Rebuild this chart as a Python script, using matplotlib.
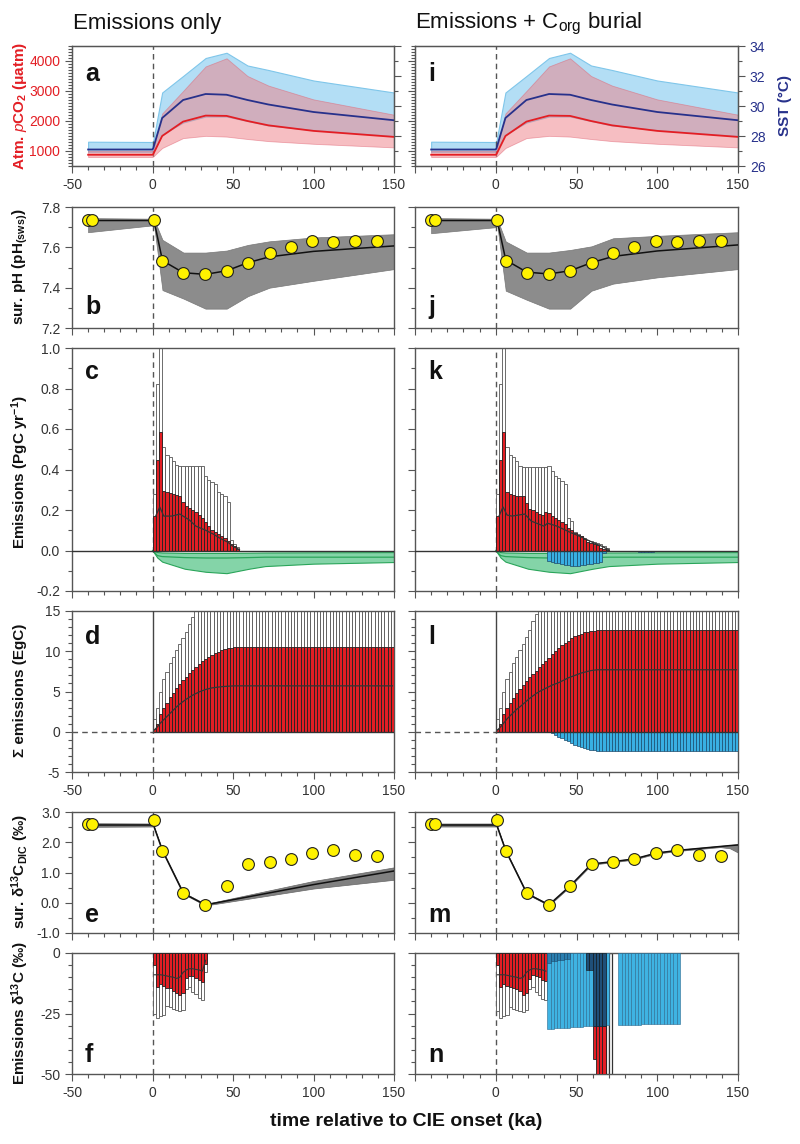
import numpy as np
import matplotlib
matplotlib.use("Agg")
import matplotlib.pyplot as plt
from matplotlib.ticker import MultipleLocator, FormatStrFormatter, FuncFormatter

plt.rcParams['font.family'] = ['Liberation Sans', 'DejaVu Sans']
plt.rcParams['mathtext.fontset'] = 'custom'
plt.rcParams['mathtext.rm'] = 'Liberation Sans'
plt.rcParams['mathtext.it'] = 'Liberation Sans:italic'
plt.rcParams['mathtext.bf'] = 'Liberation Sans:bold'
plt.rcParams['mathtext.default'] = 'regular'
plt.rcParams['axes.unicode_minus'] = False

# ---------------- data ----------------
# model time axis for panels a/i
tx = [-40, 0, 0.5, 6, 19, 33, 46, 59, 72, 100, 150]
co2_mid = [875, 875, 900, 1500, 1980, 2180, 2170, 2000, 1855, 1670, 1470]
co2_lo = [800, 800, 820, 1100, 1430, 1505, 1480, 1400, 1330, 1240, 1120]
co2_hi = [1010, 1010, 1040, 2250, 3000, 3820, 4090, 3500, 3180, 2720, 2210]
sst_mid = [27.1, 27.1, 27.2, 29.2, 30.4, 30.8, 30.75, 30.4, 30.1, 29.6, 29.05]
sst_hi = [27.62, 27.6, 27.7, 30.9, 32.0, 33.2, 33.55, 32.7, 32.4, 31.7, 30.9]
sst_lo = [26.95, 26.95, 27.0, 28.1, 28.9, 29.3, 29.3, 29.0, 28.7, 28.4, 28.0]

# proxy points (pH and d13C)
pt_x = [-40.3, -37.8, 0.8, 6.2, 19.2, 32.9, 46.1, 59.3, 72.7, 85.9, 99.2, 112.4, 125.6, 139.3]
ph_pts = [7.737, 7.737, 7.737, 7.534, 7.474, 7.466, 7.484, 7.524, 7.571, 7.601, 7.629, 7.624, 7.632, 7.632]
d13_pts = [2.6, 2.6, 2.73, 1.72, 0.31, -0.09, 0.56, 1.29, 1.36, 1.45, 1.64, 1.73, 1.58, 1.55]

# panels b / j (model pH)
ph_x = [-40, 0, 0.8, 6.2, 19.2, 32.9, 46.1, 59.3, 72.7, 100, 150]
ph_mid_b = [7.733, 7.733, 7.737, 7.534, 7.474, 7.466, 7.484, 7.524, 7.553, 7.58, 7.607]
ph_hi_b = [7.745, 7.742, 7.742, 7.637, 7.574, 7.574, 7.584, 7.612, 7.63, 7.649, 7.665]
ph_lo_b = [7.675, 7.709, 7.72, 7.388, 7.346, 7.296, 7.296, 7.358, 7.40, 7.434, 7.492]
ph_mid_j = [7.733, 7.733, 7.737, 7.537, 7.477, 7.468, 7.484, 7.524, 7.555, 7.582, 7.612]
ph_hi_j = [7.745, 7.742, 7.742, 7.629, 7.574, 7.574, 7.587, 7.605, 7.645, 7.657, 7.675]
ph_lo_j = [7.67, 7.70, 7.72, 7.385, 7.34, 7.296, 7.296, 7.385, 7.42, 7.451, 7.492]

# panels c / k : emission rate, 2 ka bins starting at 0
c_red = [0.17, 0.445, 0.585, 0.295, 0.29, 0.285, 0.28, 0.275, 0.27, 0.24, 0.22, 0.21, 0.2, 0.19,
         0.175, 0.16, 0.14, 0.12, 0.1, 0.09, 0.08, 0.07, 0.06, 0.045, 0.03, 0.02, 0.008]
c_white = [0.28, 0.82, 1.3, 0.51, 0.47, 0.46, 0.44, 0.42, 0.415, 0.415, 0.415, 0.415, 0.415, 0.415,
           0.415, 0.415, 0.37, 0.35, 0.34, 0.33, 0.29, 0.28, 0.27, 0.24, 0.05, 0.03, 0.015]
c_line_x = [2, 4.5, 7, 12, 17, 23, 27, 33, 38, 42, 47, 50, 54]
c_line = [0.17, 0.215, 0.17, 0.17, 0.18, 0.15, 0.12, 0.1, 0.08, 0.06, 0.04, 0.02, 0.005]
k_red = [0.17, 0.445, 0.585, 0.29, 0.28, 0.275, 0.27, 0.27, 0.27, 0.235, 0.205, 0.2, 0.19, 0.18,
         0.175, 0.19, 0.185, 0.17, 0.16, 0.15, 0.14, 0.13, 0.11, 0.1, 0.085, 0.075, 0.07, 0.055,
         0.04, 0.035, 0.03, 0.025, 0.01, 0.005, 0.003]
k_white = [0.28, 0.82, 1.3, 0.51, 0.47, 0.46, 0.44, 0.415, 0.41, 0.41, 0.41, 0.41, 0.41, 0.41,
           0.41, 0.41, 0.415, 0.395, 0.37, 0.36, 0.345, 0.33, 0.16, 0.145, 0.09, 0.08, 0.07,
           0.06, 0.05, 0.045, 0.04, 0.035, 0.03, 0.02, 0.01]
k_line_x = [2, 4.5, 7, 10, 18, 22, 30, 32, 38, 46, 52, 60, 66, 70]
k_line = [0.17, 0.215, 0.175, 0.17, 0.18, 0.145, 0.12, 0.135, 0.12, 0.09, 0.07, 0.04, 0.02, 0.003]
k_blue = [-0.05, -0.055, -0.06, -0.06, -0.065, -0.07, -0.07, -0.075, -0.075, -0.075, -0.07, -0.07,
          -0.065, -0.065, -0.06, -0.06, -0.055, -0.01]          # bins from 32 ka
k_blue2 = [-0.004, -0.006, -0.006, -0.006, -0.006, -0.006, -0.004]  # bins from 86 ka
green_x = [0, 3, 6, 20, 33, 46, 60, 70, 100, 150]
green_hi = [0, -0.008, -0.01, -0.012, -0.012, -0.012, -0.011, -0.01, -0.009, -0.008]
green_lo = [0, -0.035, -0.055, -0.09, -0.105, -0.112, -0.09, -0.077, -0.065, -0.057]
green_mid = [0, -0.025, -0.03, -0.035, -0.037, -0.037, -0.035, -0.033, -0.033, -0.033]

# panels d / l : cumulative emissions, 2 ka bins (75 bins to 150 ka)
d_red = [0.3, 1.0, 2.2, 3.0, 3.6, 4.3, 4.85, 5.4, 5.9, 6.4, 6.8, 7.25, 7.65, 8.05, 8.4, 8.75,
         9.05, 9.3, 9.55, 9.75, 9.95, 10.1, 10.25, 10.35, 10.45, 10.5] + [10.5] * 49
d_white = [1.6, 2.9, 5.0, 6.6, 7.4, 8.5, 9.3, 10.1, 10.95, 11.7, 12.4, 13.4, 14.3] + [16] * 62
d_line = [0.2, 0.6, 1.1, 1.5, 1.9, 2.3, 2.7, 3.1, 3.45, 3.75, 4.05, 4.3, 4.55, 4.75, 4.95, 5.1,
          5.25, 5.35, 5.45, 5.5, 5.55, 5.6, 5.63, 5.66, 5.68, 5.7] + [5.7] * 49
l_red = [0.3, 1.0, 2.2, 3.0, 3.6, 4.25, 4.8, 5.35, 5.85, 6.35, 6.8, 7.2, 7.6, 8.0, 8.4, 8.8, 9.2,
         9.6, 10.0, 10.4, 10.75, 11.05, 11.3, 11.6, 11.85, 12.05, 12.2, 12.35, 12.45, 12.5,
         12.55] + [12.6] * 44
l_white = [1.6, 3.0, 5.0, 6.6, 7.4, 8.5, 9.3, 10.1, 10.9, 11.8, 12.6, 13.8, 14.6] + [16] * 62
l_line = [0.2, 0.6, 1.1, 1.6, 2.0, 2.4, 2.8, 3.1, 3.45, 3.8, 4.15, 4.45, 4.75, 5.0, 5.2, 5.4,
          5.6, 5.8, 5.95, 6.1, 6.3, 6.5, 6.7, 6.85, 7.0, 7.15, 7.3, 7.4, 7.5, 7.6, 7.65] + [7.7] * 44
l_blue = [-0.05, -0.2, -0.4, -0.6, -0.8, -1.0, -1.2, -1.4, -1.6, -1.75, -1.9, -2.05, -2.15,
          -2.25, -2.32, -2.38, -2.42] + [-2.45] * 42                  # bins from 32 ka

# panels e / m : surface d13C model
e_x = [-40, 0, 0.5, 6.2, 19.2, 32.9, 100, 150]
e_mid = [2.57, 2.57, 2.58, 1.72, 0.31, -0.07, 0.6, 1.05]
e_hi = [2.63, 2.62, 2.6, 1.74, 0.34, -0.04, 0.72, 1.17]
e_lo = [2.51, 2.52, 2.56, 1.70, 0.29, -0.09, 0.47, 0.76]
m_x = [-40, 0, 0.5, 6.2, 19.2, 32.9, 46.1, 59.3, 72.7, 85.9, 99.2, 112.4, 139, 145, 150]
m_mid = [2.57, 2.57, 2.58, 1.72, 0.31, -0.07, 0.56, 1.28, 1.36, 1.45, 1.64, 1.73, 1.86, 1.89, 1.91]
m_hi = [2.62, 2.62, 2.6, 1.74, 0.33, -0.05, 0.58, 1.3, 1.38, 1.47, 1.66, 1.75, 1.88, 1.91, 1.94]
m_lo = [2.52, 2.52, 2.56, 1.70, 0.29, -0.09, 0.54, 1.26, 1.34, 1.43, 1.62, 1.71, 1.84, 1.8, 1.66]

# panels f / n : emission d13C, 2 ka bins from 0
f_red = [-5, -14, -13, -13.5, -14.5, -14.5, -15.5, -16.5, -17.5, -16.5, -10.5, -9.5, -9.5,
         -10.5, -11, -12, -4.5]
f_white = [-25, -27, -26, -25.5, -22, -22.5, -23, -23.5, -24, -23.5, -15, -14, -16, -17,
           -18.5, -19.5, -8]
f_line = [-9, -9, -9, -9.2, -9.5, -9.8, -10, -10.5, -10, -8, -7, -6.5, -6.5, -6.8, -7, -7.5, -3]
n_red = [-5, -14, -12.7, -13.5, -14, -14.5, -15, -15.8, -17.2, -16.5, -10.7, -9, -9.4, -10,
         -11, -11.7]
n_white = [-24, -27, -26, -25.5, -22.5, -23, -23.5, -24, -24.3, -23.5, -15, -14, -16, -17.5,
           -19, -19.5]
n_line = [-9, -9, -9, -9.2, -9.5, -9.8, -10, -10.5, -10, -8, -7, -6.5, -6.5, -6.8, -7, -7.5]
n_blue = [-31.3, -31.2, -31.1, -31.0, -30.9, -30.9, -30.8, -30.7, -30.6, -30.5, -30.4, -30.3,
          -30.3, -30.2, -30.1, -30.0, -30.0, -29.9, -29.9]            # bins from 32 ka
n_blue2 = [-29.8, -29.8, -29.7, -29.7, -29.6, -29.6, -29.6, -29.5, -29.5, -29.5, -29.4, -29.4,
           -29.4, -29.3, -29.3, -29.3, -29.2, -29.2, -29.2]           # bins from 76 ka
n_dark = [-4, -3.5, -3.5, -3, -3, -2.5, -2.5]                          # bins from 32 ka
n_dark2 = [-7, -7, -30, -30, -30, -30]                                 # bins from 56 ka
n_deep = [-14, -25, -25, -25]                                          # below -30, bins from 60 ka
n_white_deep = [-55, -55]                                              # bins from 68 ka

# ---------------- styling ----------------
RED = '#e31e24'
NAVY = '#27318b'
GREY = '#555555'
TXT = '#333333'

W, H = 800, 1144
cols = [(72, 394), (415, 738)]
rows = {'a': (46, 166), 'b': (207, 328), 'c': (348, 591), 'd': (611, 772),
        'e': (812, 933), 'f': (953, 1074)}
letters = [['a', 'b', 'c', 'd', 'e', 'f'], ['i', 'j', 'k', 'l', 'm', 'n']]
letter_y = {'a': 0.77, 'b': 0.17, 'c': 0.9, 'd': 0.84, 'e': 0.15, 'f': 0.16}


def box(x0, x1, top, bot):
    return [x0 / W, 1 - bot / H, (x1 - x0) / W, (bot - top) / H]


def xfmt_right(v, pos):
    # the right column leaves out the -50 label (it would run into the left 150)
    return '' if v < -49 else '%d' % v


def style(ax, xlabels, ylabels):
    ax.set_xlim(-50, 150)
    ax.xaxis.set_major_locator(MultipleLocator(50))
    ax.xaxis.set_minor_locator(MultipleLocator(10))
    ax.tick_params(which='both', direction='out', color=GREY, labelcolor=TXT,
                   labelsize=10, width=0.8)
    ax.tick_params(which='major', length=5)
    ax.tick_params(which='minor', length=3)
    for s in ax.spines.values():
        s.set_color(GREY)
        s.set_linewidth(1)
    ax.tick_params(axis='x', labelbottom=xlabels)
    ax.tick_params(axis='y', labelleft=ylabels)
    if not ylabels:
        ax.xaxis.set_major_formatter(FuncFormatter(xfmt_right))


def bars(ax, vals, start, color, ec, lw=0.6, bottom=0, z=2):
    x = start + 2 * np.arange(len(vals))
    ax.bar(x, vals, width=2, align='edge', bottom=bottom, color=color, edgecolor=ec,
           linewidth=lw, zorder=z)


def zero_line(ax):
    ax.axvline(0, color=GREY, lw=1, ls=(0, (4, 3)), zorder=1.5)


fig = plt.figure(figsize=(8, 11.44), dpi=100)

for k, (x0, x1) in enumerate(cols):
    first = k == 0

    # ---- a / i : pCO2 and SST ----
    ax = fig.add_axes(box(x0, x1, *rows['a']))
    tw = ax.twinx()
    ax.set_autoscale_on(False)
    tw.set_autoscale_on(False)
    ax.set_xlim(-50, 150)
    ax.set_ylim(500, 4500)
    tw.set_ylim(26, 34)
    ax.fill_between(tx, sst_lo, sst_hi, transform=tw.transData, facecolor='#b3def5',
                    edgecolor='#7fc6ea', lw=0.8, zorder=1)
    ax.fill_between(tx, co2_lo, co2_hi, facecolor='#ee7f86', alpha=0.5,
                    edgecolor='#e06070', lw=0.6, zorder=2)
    ax.plot(tx, sst_mid, transform=tw.transData, color=NAVY, lw=1.3, zorder=4)
    ax.plot(tx, co2_mid, color=RED, lw=1.3, zorder=4)
    zero_line(ax)
    style(ax, True, first)
    ax.yaxis.set_major_locator(MultipleLocator(1000))
    ax.yaxis.set_minor_locator(MultipleLocator(100))
    ax.tick_params(axis='y', labelcolor=RED)
    tw.yaxis.set_major_locator(MultipleLocator(2))
    tw.yaxis.set_minor_locator(MultipleLocator(1))
    tw.tick_params(which='both', direction='out', color=GREY, labelcolor=NAVY,
                   labelsize=10, width=0.8, labelright=not first)
    tw.tick_params(which='major', length=5)
    tw.tick_params(which='minor', length=3)
    for s in tw.spines.values():
        s.set_color(GREY)
    ax.text(0.04, letter_y['a'], letters[k][0], transform=ax.transAxes, fontsize=18,
            fontweight='bold', va='center', color='#111')

    # ---- b / j : surface pH ----
    ax = fig.add_axes(box(x0, x1, *rows['b']))
    mid, hi, lo = (ph_mid_b, ph_hi_b, ph_lo_b) if first else (ph_mid_j, ph_hi_j, ph_lo_j)
    ax.fill_between(ph_x, lo, hi, facecolor='#8c8c8c', edgecolor='#777', lw=0.5, zorder=1)
    ax.plot(ph_x, mid, color='#111', lw=1.1, zorder=3)
    ax.plot(pt_x, ph_pts, 'o', ms=8.5, mfc='#fff200', mec='#222', mew=0.8, zorder=5)
    zero_line(ax)
    style(ax, False, first)
    ax.set_ylim(7.2, 7.8)
    ax.yaxis.set_major_locator(MultipleLocator(0.2))
    ax.yaxis.set_minor_locator(MultipleLocator(0.1))
    ax.yaxis.set_major_formatter(FormatStrFormatter('%.1f'))
    ax.text(0.04, letter_y['b'], letters[k][1], transform=ax.transAxes, fontsize=18,
            fontweight='bold', va='center', color='#111')

    # ---- c / k : emission rate ----
    ax = fig.add_axes(box(x0, x1, *rows['c']))
    ax.fill_between(green_x, green_lo, green_hi, facecolor='#84d4a8', edgecolor='#2aa55a',
                    lw=0.8, zorder=1)
    ax.plot(green_x, green_mid, color='#2aa55a', lw=0.9, zorder=1.2)
    if first:
        bars(ax, c_white, 0, 'white', '#555', lw=0.6, z=2)
        bars(ax, c_red, 0, RED, '#222', lw=0.6, z=3)
        ax.plot(c_line_x, c_line, color='#333', lw=0.9, zorder=4)
    else:
        bars(ax, k_white, 0, 'white', '#555', lw=0.6, z=2)
        bars(ax, k_red, 0, RED, '#222', lw=0.6, z=3)
        ax.plot(k_line_x, k_line, color='#333', lw=0.9, zorder=4)
        bars(ax, k_blue, 32, '#38b0e3', '#1c4a6b', lw=0.5, z=3)
        bars(ax, k_blue2, 86, '#38b0e3', '#1c4a6b', lw=0.5, z=3)
    ax.axhline(0, color='#333', lw=1, zorder=3.5)
    zero_line(ax)
    style(ax, False, first)
    ax.set_ylim(-0.2, 1.0)
    ax.yaxis.set_major_locator(MultipleLocator(0.2))
    ax.yaxis.set_minor_locator(MultipleLocator(0.1))
    ax.yaxis.set_major_formatter(FormatStrFormatter('%.1f'))
    ax.text(0.04, letter_y['c'], letters[k][2], transform=ax.transAxes, fontsize=18,
            fontweight='bold', va='center', color='#111')

    # ---- d / l : cumulative emissions ----
    ax = fig.add_axes(box(x0, x1, *rows['d']))
    if first:
        bars(ax, d_white, 0, 'white', '#555', lw=0.6, z=2)
        bars(ax, d_red, 0, RED, '#222', lw=0.6, z=3)
        ax.plot(1 + 2 * np.arange(len(d_line)), d_line, color='#333', lw=0.9, zorder=4)
    else:
        bars(ax, l_white, 0, 'white', '#555', lw=0.6, z=2)
        bars(ax, l_red, 0, RED, '#222', lw=0.6, z=3)
        ax.plot(1 + 2 * np.arange(len(l_line)), l_line, color='#333', lw=0.9, zorder=4)
        bars(ax, l_blue, 32, '#38b0e3', '#1c4a6b', lw=0.5, z=3)
    ax.plot([-50, 0], [0, 0], color=GREY, lw=1, ls=(0, (4, 3)), zorder=4)
    ax.plot([0, 150], [0, 0], color='#333', lw=1, zorder=4)
    ax.plot([0, 0], [-5, 0], color=GREY, lw=1, ls=(0, (4, 3)), zorder=4)
    ax.plot([0, 0], [0, 15], color='#444', lw=1, zorder=4)
    style(ax, True, first)
    ax.set_ylim(-5, 15)
    ax.yaxis.set_major_locator(MultipleLocator(5))
    ax.yaxis.set_minor_locator(MultipleLocator(1))
    ax.text(0.04, letter_y['d'], letters[k][3], transform=ax.transAxes, fontsize=18,
            fontweight='bold', va='center', color='#111')

    # ---- e / m : surface d13C ----
    ax = fig.add_axes(box(x0, x1, *rows['e']))
    ex, emid, ehi, elo = (e_x, e_mid, e_hi, e_lo) if first else (m_x, m_mid, m_hi, m_lo)
    ax.fill_between(ex, elo, ehi, facecolor='#808080', edgecolor='#666', lw=0.5, zorder=1)
    ax.plot(ex, emid, color='#111', lw=1.1, zorder=3)
    ax.plot(pt_x, d13_pts, 'o', ms=8.5, mfc='#fff200', mec='#222', mew=0.8, zorder=5)
    zero_line(ax)
    style(ax, False, first)
    ax.set_ylim(-1, 3)
    ax.yaxis.set_major_locator(MultipleLocator(1))
    ax.yaxis.set_minor_locator(MultipleLocator(0.5))
    ax.yaxis.set_major_formatter(FormatStrFormatter('%.1f'))
    ax.text(0.04, letter_y['e'], letters[k][4], transform=ax.transAxes, fontsize=18,
            fontweight='bold', va='center', color='#111')

    # ---- f / n : emission d13C ----
    ax = fig.add_axes(box(x0, x1, *rows['f']))
    if first:
        bars(ax, f_white, 0, 'white', '#555', lw=0.6, z=2)
        bars(ax, f_red, 0, RED, '#222', lw=0.6, z=3)
        ax.plot(1 + 2 * np.arange(len(f_line)), f_line, color='#333', lw=0.8, zorder=4)
    else:
        bars(ax, n_white, 0, 'white', '#555', lw=0.6, z=2)
        bars(ax, n_red, 0, RED, '#222', lw=0.6, z=3)
        ax.plot(1 + 2 * np.arange(len(n_line)), n_line, color='#333', lw=0.8, zorder=4)
        bars(ax, n_white_deep, 68, 'white', '#333', lw=0.9, z=2)
        bars(ax, n_deep, 60, RED, '#222', lw=0.6, bottom=-30, z=3)
        bars(ax, n_blue, 32, '#3fb3e3', '#2a6a90', lw=0.4, z=3.2)
        bars(ax, n_blue2, 76, '#3fb3e3', '#2a6a90', lw=0.4, z=3.2)
        bars(ax, n_dark, 32, '#2a7fb0', '#1c4a6b', lw=0.4, z=3.4)
        bars(ax, n_dark2, 56, '#1f4f78', '#111', lw=0.4, z=3.4)
    zero_line(ax)
    style(ax, True, first)
    ax.set_ylim(-50, 0)
    ax.yaxis.set_major_locator(MultipleLocator(25))
    ax.yaxis.set_minor_locator(MultipleLocator(5))
    ax.text(0.04, letter_y['f'], letters[k][5], transform=ax.transAxes, fontsize=18,
            fontweight='bold', va='center', color='#111')

# ---------------- titles and axis labels ----------------
fig.text(73 / W, 1 - 24 / H, 'Emissions only', fontsize=16, ha='left', va='center', color='#111')
fig.text(415 / W, 1 - 24 / H, 'Emissions + C$_{org}$ burial', fontsize=16, ha='left',
         va='center', color='#111')

ylabels = [('Atm. $\\it{p}$CO$_2$ (μatm)', 106, RED),
           ('sur. pH (pH$_{(sws)}$)', 267, '#111'),
           ('Emissions (PgC yr$^{-1}$)', 472, '#111'),
           ('Σ emissions (EgC)', 690, '#111'),
           ('sur. δ$^{13}$C$_{DIC}$ (‰)', 872, '#111'),
           ('Emissions δ$^{13}$C (‰)', 1013, '#111')]
for txt, yc, col in ylabels:
    fig.text(20 / W, 1 - yc / H, txt, rotation=90, fontsize=11, fontweight='bold',
             ha='center', va='center', color=col)
fig.text(785 / W, 1 - 106 / H, 'SST (°C)', rotation=90, fontsize=11, fontweight='bold',
         ha='center', va='center', color=NAVY)
fig.text(406 / W, 1 - 1122 / H, 'time relative to CIE onset (ka)', fontsize=14,
         fontweight='bold', ha='center', va='center', color='#111')

fig.savefig('out.png', dpi=100)
